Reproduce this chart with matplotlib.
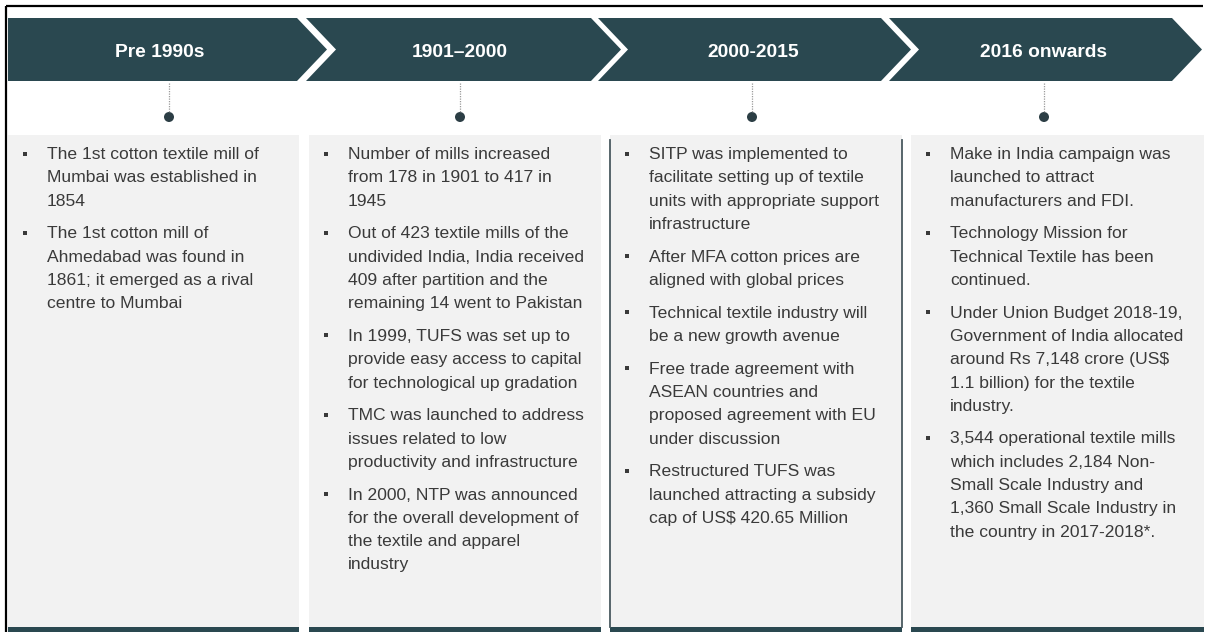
import matplotlib
matplotlib.use("Agg")
import matplotlib.pyplot as plt
from matplotlib.patches import Polygon, Rectangle, Circle

# ---------------- data ----------------
headings = ["Pre 1990s", "1901\u20132000", "2000-2015", "2016 onwards"]

pre1990_points = [
    ["The 1st cotton textile mill of", "Mumbai was established in", "1854"],
    ["The 1st cotton mill of", "Ahmedabad was found in", "1861; it emerged as a rival", "centre to Mumbai"],
]
y1901_points = [
    ["Number of mills increased", "from 178 in 1901 to 417 in", "1945"],
    ["Out of 423 textile mills of the", "undivided India, India received", "409 after partition and the",
     "remaining 14 went to Pakistan"],
    ["In 1999, TUFS was set up to", "provide easy access to capital", "for technological up gradation"],
    ["TMC was launched to address", "issues related to low", "productivity and infrastructure"],
    ["In 2000, NTP was announced", "for the overall development of", "the textile and apparel", "industry"],
]
y2000_points = [
    ["SITP was implemented to", "facilitate setting up of textile", "units with appropriate support",
     "infrastructure"],
    ["After MFA cotton prices are", "aligned with global prices"],
    ["Technical textile industry will", "be a new growth avenue"],
    ["Free trade agreement with", "ASEAN countries and", "proposed agreement with EU", "under discussion"],
    ["Restructured TUFS was", "launched attracting a subsidy", "cap of US$ 420.65 Million"],
]
y2016_points = [
    ["Make in India campaign was", "launched to attract", "manufacturers and FDI."],
    ["Technology Mission for", "Technical Textile has been", "continued."],
    ["Under Union Budget 2018-19,", "Government of India allocated", "around Rs 7,148 crore (US$",
     "1.1 billion) for the textile", "industry."],
    ["3,544 operational textile mills", "which includes 2,184 Non-", "Small Scale Industry and",
     "1,360 Small Scale Industry in", "the country in 2017-2018*."],
]
columns = [pre1990_points, y1901_points, y2000_points, y2016_points]

# ---------------- layout / style ----------------
W, H = 1206, 632
DARK = "#2a4850"
GRAY_BOX = "#f2f2f2"
TEXT_C = "#3a3a3a"
DOT_C = "#2c3e45"

chev_left = [8, 306, 598, 889]
chev_right = [297, 591, 881, 1172]
chev_top, chev_bot, depth = 18, 81, 30
head_x = [160, 460, 753, 1044]
dot_x = [169, 460, 752, 1044]
box_left = [8, 309, 610, 911]
box_right = [299, 601, 902, 1204]
box_top = 135

fig = plt.figure(figsize=(W / 100, H / 100), dpi=100)
ax = fig.add_axes([0, 0, 1, 1])
ax.set_xlim(0, W)
ax.set_ylim(H, 0)
ax.axis("off")

# outer frame (top and left)
ax.plot([6, 1203], [6, 6], color="black", lw=1.6, solid_capstyle="butt")
ax.plot([6, 6], [6, H], color="black", lw=1.6, solid_capstyle="butt")

mid = (chev_top + chev_bot) / 2
for i, (l, r) in enumerate(zip(chev_left, chev_right)):
    if i == 0:
        pts = [(l, chev_top), (r, chev_top), (r + depth, mid), (r, chev_bot), (l, chev_bot)]
    else:
        pts = [(l, chev_top), (r, chev_top), (r + depth, mid), (r, chev_bot), (l, chev_bot),
               (l + depth, mid)]
    ax.add_patch(Polygon(pts, closed=True, facecolor=DARK, edgecolor="none"))
    ax.text(head_x[i], 57, headings[i], color="white", fontsize=13.9, fontweight="bold",
            family="Liberation Sans", ha="center", va="baseline")

# dotted connectors and dots
for x in dot_x:
    ax.plot([x, x], [83, 112], color="#9a9a9a", lw=0.9, linestyle=(0, (1, 1)))
    ax.add_patch(Circle((x, 117), 5, facecolor=DOT_C, edgecolor="none"))

# boxes
for i, (l, r) in enumerate(zip(box_left, box_right)):
    ax.add_patch(Rectangle((l, box_top), r - l, H - box_top, facecolor=GRAY_BOX, edgecolor="none"))
    ax.add_patch(Rectangle((l, 627), r - l, H - 627, facecolor=DARK, edgecolor="none"))

# borders on third box
for x in (box_left[2], box_right[2]):
    ax.plot([x, x], [140, 627], color="#4a5a60", lw=1.3)

# bullet text
line_h = 23.3
para_extra = 9.4
base0 = 159
for i, points in enumerate(columns):
    bx = box_left[i] + 17
    tx = box_left[i] + 39
    k = 0
    for p, lines in enumerate(points):
        for j, line in enumerate(lines):
            y = base0 + line_h * k + para_extra * p
            if j == 0:
                ax.add_patch(Rectangle((bx - 2, y - 7.5), 4, 4, facecolor=TEXT_C, edgecolor="none"))
            ax.text(tx, y, line, color=TEXT_C, fontsize=12.6, family="Liberation Sans",
                    ha="left", va="baseline", parse_math=False)
            k += 1

fig.savefig("out.png", dpi=100)
